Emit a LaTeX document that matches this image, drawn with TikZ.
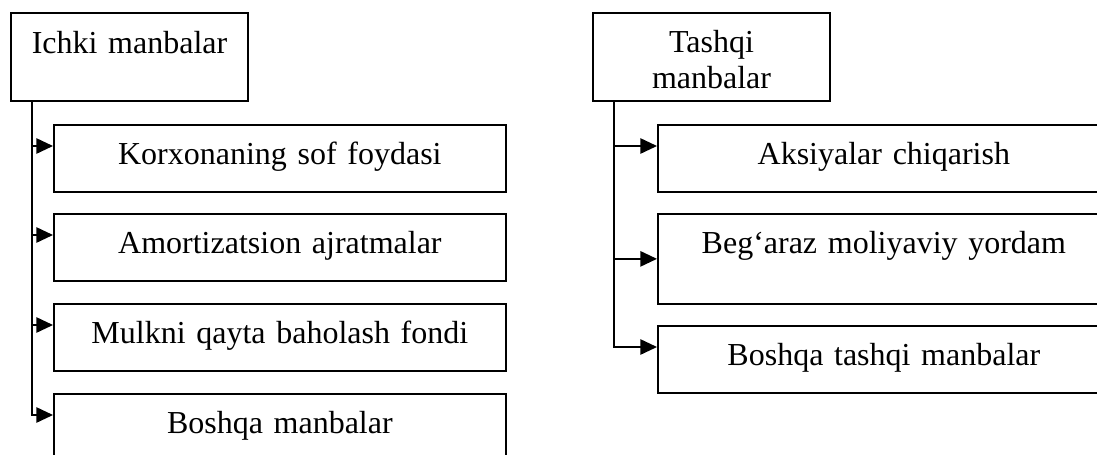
\documentclass[tikz,border=0pt]{standalone}
\usepackage{fontspec}
\setmainfont{Liberation Serif}
\usetikzlibrary{arrows.meta}

\tikzset{
  srcbox/.style = {draw, line width=1.3pt, inner sep=0pt, align=center,
    font=\fontsize{24}{27}\selectfont, anchor=north west},
  headbox/.style = {srcbox, text width=178pt, text height=30.5pt, text depth=35.5pt},
  itembox/.style = {srcbox, text width=339pt, text height=30pt, text depth=20.25pt},
  link/.style = {line width=1.3pt, -{Triangle[length=12.5pt, width=11.5pt]}}
}

\begin{document}
\begin{tikzpicture}[x=0.75pt, y=-0.75pt]
    \useasboundingbox (0,0) rectangle (1097,454);
    \clip (0,0) rectangle (1097,454);

    % ichki manbalar
    \node[headbox] (ichki) at (10,12) {Ichki manbalar};
    \node[itembox] (sof) at (53,124) {Korxonaning sof foydasi};
    \node[itembox] (amort) at (53,213) {Amortizatsion ajratmalar};
    \node[itembox] (mulk) at (53,303) {Mulkni qayta baholash fondi};
    \node[itembox] (boshqa) at (53,393) {Boshqa manbalar};

    % tashqi manbalar
    \node[headbox, text height=30pt, text depth=36pt] (tashqi) at (592,12) {Tashqi\\manbalar};
    \node[itembox] (aksiya) at (657,124) {Aksiyalar chiqarish};
    \node[itembox, text depth=37.5pt] (begaraz) at (657,213) {Beg‘araz moliyaviy yordam};
    \node[itembox] (tboshqa) at (657,325) {Boshqa tashqi manbalar};

    \coordinate (ltrunk) at ([xshift=16.5pt]ichki.south west);
    \coordinate (rtrunk) at ([xshift=16.5pt]tashqi.south west);
    \foreach \b in {sof,amort,mulk,boshqa,aksiya,tboshqa}
        \coordinate (\b-in) at ([yshift=-16.5pt]\b.north west);
    \coordinate (begaraz-in) at (begaraz.west);

    \draw[link] (ltrunk) |- (boshqa-in);
    \foreach \b in {sof,amort,mulk}
        \draw[link] (ltrunk |- \b-in) -- (\b-in);

    \draw[link] (rtrunk) |- (tboshqa-in);
    \foreach \b in {aksiya,begaraz}
        \draw[link] (rtrunk |- \b-in) -- (\b-in);
\end{tikzpicture}
\end{document}
